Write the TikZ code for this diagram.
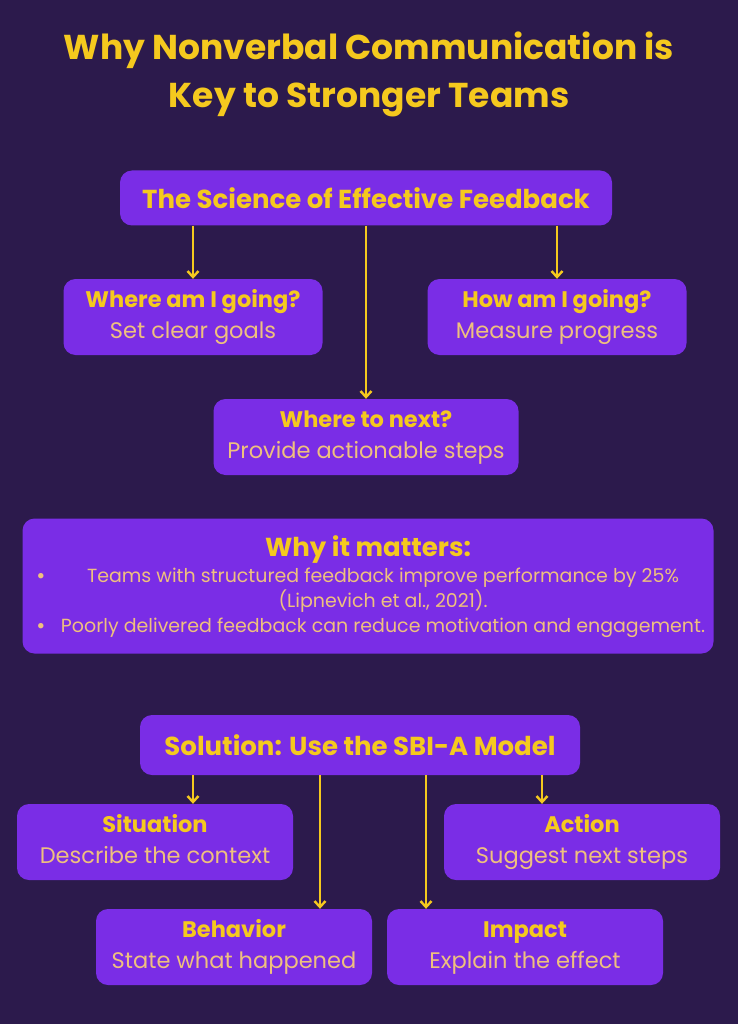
\documentclass[tikz,border=0pt]{standalone}
\usepackage{fontspec}
\setmainfont{Poppins}
\usetikzlibrary{arrows.meta,positioning,calc}
\definecolor{bgpurple}{HTML}{2C1A4C}
\definecolor{boxpurple}{HTML}{7A2DE6}
\definecolor{gold}{HTML}{F5C91E}
\definecolor{peach}{HTML}{EFC07E}
\begin{document}
\begin{tikzpicture}[x=1pt, y=-1pt, every node/.style={font=\fontsize{22.5}{31}\selectfont, text=peach},
    box/.style={fill=boxpurple, rounded corners=12pt, align=center, inner sep=0pt},
    head/.style={text=gold, font=\fontsize{26}{30}\selectfont\bfseries},
    link/.style={draw=gold, line width=2.4pt, -{Straight Barb[length=6pt,width=11pt,line width=2.4pt]}},
    >=stealth]

    % page
    \fill[bgpurple] (0,0) rectangle (738,1024);
    \useasboundingbox (0,0) rectangle (738,1024);

    \node[align=center, text=gold, font=\fontsize{34.5}{48}\selectfont\bfseries] (title) at (369,74)
        {Why Nonverbal Communication is\\Key to Stronger Teams};

    % feedback part
    \node[box, head, minimum width=492, minimum height=55] (sci) at (366,198)
        {The Science of Effective Feedback};
    \node[box, minimum width=259, minimum height=76] (wam) at (193,317)
        {\textcolor{gold}{\bfseries Where am I going?}\strut\\Set clear goals\strut};
    \node[box, minimum width=259, minimum height=76] (ham) at (557,317)
        {\textcolor{gold}{\bfseries How am I going?}\strut\\Measure progress\strut};
    \node[box, minimum width=305, minimum height=76] (next) at (366,437)
        {\textcolor{gold}{\bfseries Where to next?}\strut\\Provide actionable steps\strut};

    \draw[link] (sci.south -| wam.north) -- (wam.north);
    \draw[link] (sci.south -| ham.north) -- (ham.north);
    \draw[link] (sci.south -| next.north) -- (next.north);

    % why it matters
    \node[box, minimum width=691, minimum height=135] (why) at (368,586) {};
    \node[head] (whyhead) at (368,550) {Why it matters:};
    \node[align=center, font=\fontsize{19}{25}\selectfont] (whytext) at (383,603)
        {Teams with structured feedback improve performance by 25\%\\(Lipnevich et al., 2021).\\Poorly delivered feedback can reduce motivation and engagement.};
    \node[font=\fontsize{22}{20}\selectfont] (dot1) at (41,578) {\textbullet};
    \node[font=\fontsize{22}{20}\selectfont] (dot2) at (41,628) {\textbullet};

    % SBI-A
    \node[box, head, minimum width=440, minimum height=60] (sol) at (360,745)
        {Solution: Use the SBI-A Model};
    \node[box, minimum width=276, minimum height=76] (sit) at (155,842)
        {\textcolor{gold}{\bfseries Situation}\strut\\Describe the context\strut};
    \node[box, minimum width=276, minimum height=76] (act) at (582,842)
        {\textcolor{gold}{\bfseries Action}\strut\\Suggest next steps\strut};
    \node[box, minimum width=276, minimum height=76] (beh) at (234,947)
        {\textcolor{gold}{\bfseries Behavior}\strut\\State what happened\strut};
    \node[box, minimum width=276, minimum height=76] (imp) at (525,947)
        {\textcolor{gold}{\bfseries Impact}\strut\\Explain the effect\strut};

    \draw[link] ([xshift=38]sol.south -| sit.north) -- ([xshift=38]sit.north);
    \draw[link] ([xshift=-40]sol.south -| act.north) -- ([xshift=-40]act.north);
    \draw[link] ([xshift=86]sol.south -| beh.north) -- ([xshift=86]beh.north);
    \draw[link] ([xshift=-99]sol.south -| imp.north) -- ([xshift=-99]imp.north);
\end{tikzpicture}
\end{document}
